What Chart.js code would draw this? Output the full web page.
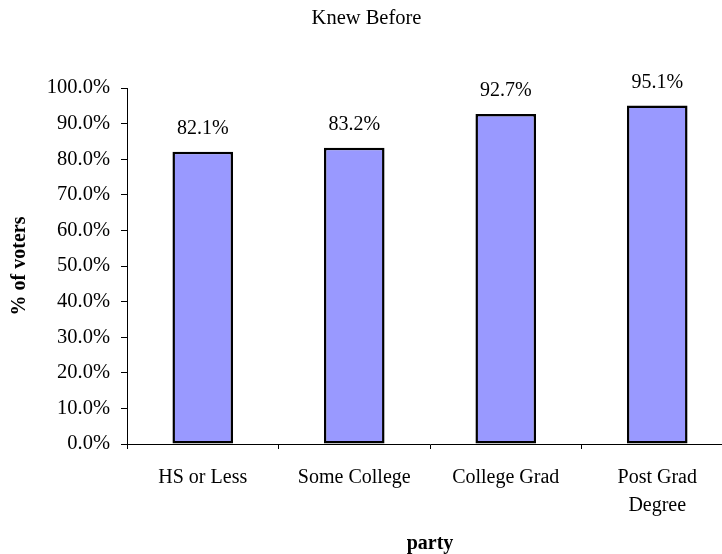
<!DOCTYPE html>
<html>
<head>
<meta charset="utf-8">
<script src="https://cdn.jsdelivr.net/npm/chart.js@4"></script>
<style>
  html, body { margin: 0; padding: 0; background: #fff; overflow: hidden; }
  #wrap { width: 722px; height: 554px; overflow: hidden; }
</style>
</head>
<body>
<div id="wrap"><canvas id="myChart" width="738" height="554"></canvas></div>
<script>
var categories = [["HS or Less"], ["Some College"], ["College Grad"], ["Post Grad", "Degree"]]
var knewBefore = [82.1, 83.2, 92.7, 95.1]
var yTicks = [0, 10, 20, 30, 40, 50, 60, 70, 80, 90, 100]

var serif = "'Liberation Serif', 'Times New Roman', serif"

// labels over the bars
var barLabels = {
    id: 'barLabels',
    afterDatasetsDraw: function(chart) {
        var ctx = chart.ctx
        ctx.save()
        ctx.font = "20px " + serif
        ctx.fillStyle = "#000"
        ctx.textAlign = "center"
        ctx.textBaseline = "middle"
        chart.getDatasetMeta(0).data.forEach(function(bar, i) {
            ctx.fillText(knewBefore[i].toFixed(1) + "%", bar.x, bar.y - 23)
        })
        ctx.restore()
    }
}

var myChart = document.getElementById("myChart").getContext('2d')

var chart = new Chart(myChart, {
    type: 'bar',
    data: {
        labels: categories,
        datasets: [{
            label: "Knew Before",
            data: knewBefore,
            backgroundColor: "#9999FF",
            borderColor: "#000",
            borderWidth: 2.5,
            borderSkipped: false,
            barPercentage: 0.4,
            categoryPercentage: 1
        }]
    },
    plugins: [barLabels],
    options: {
        responsive: false,
        animation: false,
        devicePixelRatio: 1,
        layout: { padding: { left: 0, right: 5, top: 0, bottom: 0 } },
        plugins: {
            legend: { display: false },
            tooltip: { enabled: false },
            title: {
                display: true,
                text: "Knew Before",
                color: "#000",
                font: { family: serif, size: 20.5, weight: 'normal', lineHeight: 1.2 },
                padding: { top: 6, bottom: 57.4 }
            }
        },
        scales: {
            x: {
                grid: { display: true, drawOnChartArea: false, drawTicks: true, tickLength: 5, color: "#000", offset: true },
                border: { display: true, color: "#000", width: 1 },
                ticks: {
                    color: "#000",
                    padding: 15,
                    maxRotation: 0,
                    font: { family: serif, size: 20, lineHeight: 1.4 }
                },
                title: {
                    display: true,
                    text: "party",
                    color: "#000",
                    font: { family: serif, size: 20, weight: 'bold', lineHeight: 1 },
                    padding: { top: 0, bottom: 0 }
                },
                afterFit: function(scale) { scale.height = 110 }
            },
            y: {
                min: 0,
                max: 100,
                afterBuildTicks: function(scale) {
                    scale.ticks = yTicks.map(function(v) { return { value: v } })
                },
                grid: { display: true, drawOnChartArea: false, drawTicks: true, tickLength: 6, color: "#000" },
                border: { display: true, color: "#000", width: 1 },
                ticks: {
                    color: "#000",
                    padding: 11,
                    font: { family: serif, size: 20.5 },
                    callback: function(v) { return v.toFixed(1) + "%" }
                },
                title: {
                    display: true,
                    text: "% of voters",
                    color: "#000",
                    font: { family: serif, size: 20, weight: 'bold', lineHeight: 1.2 },
                    padding: { top: 8, bottom: 0 }
                },
                afterFit: function(scale) { scale.width = 127 }
            }
        }
    }
})
</script>
</body>
</html>
